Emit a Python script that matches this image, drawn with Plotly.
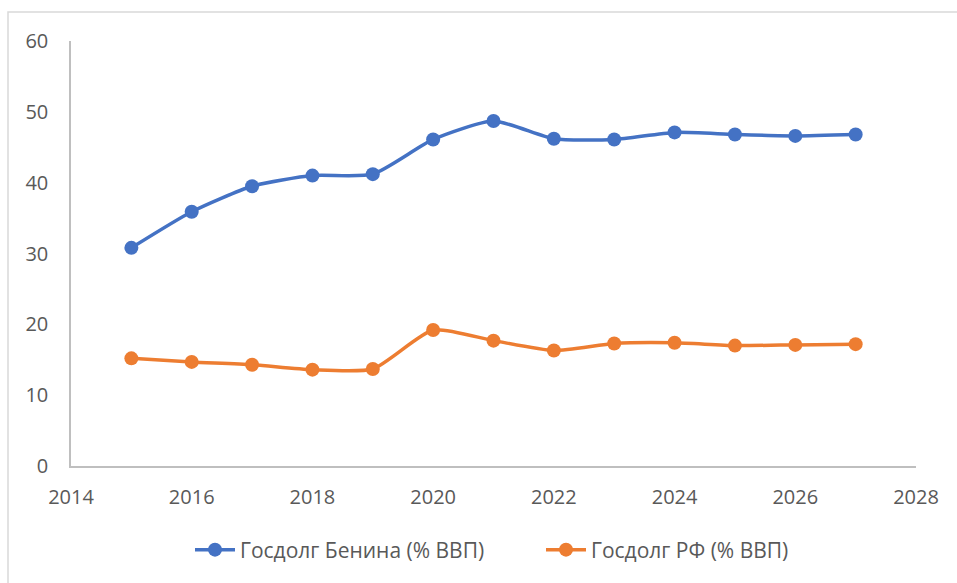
import plotly.graph_objects as go

years = [2015, 2016, 2017, 2018, 2019, 2020, 2021, 2022, 2023, 2024, 2025, 2026, 2027]
benin = [30.8, 35.9, 39.5, 41.0, 41.2, 46.1, 48.7, 46.2, 46.1, 47.1, 46.8, 46.6, 46.8]
russia = [15.2, 14.7, 14.3, 13.6, 13.7, 19.2, 17.7, 16.3, 17.3, 17.4, 17.0, 17.1, 17.2]
names = ["Госдолг Бенина (% ВВП)", "Госдолг РФ (% ВВП)"]
colors = ["#4472C4", "#ED7D31"]

W, H = 957, 583
L, R, T, B = 71, 41, 41, 117
pw, ph = W - L - R, H - T - B

fig = go.Figure()
for ys, nm, c in zip([benin, russia], names, colors):
    fig.add_trace(go.Scatter(
        x=years, y=ys, name=nm, mode="lines+markers",
        line=dict(color=c, width=3.5, shape="spline", smoothing=0.6),
        marker=dict(color=c, size=14),
    ))

def px_x(p):
    return (p - L) / pw

def px_y(p):
    return (H - B - p) / ph

fig.add_shape(type="rect", xref="paper", yref="paper",
              x0=px_x(8), x1=px_x(980), y0=px_y(600), y1=px_y(12),
              line=dict(color="#d9d9d9", width=1.5), fillcolor="rgba(0,0,0,0)", layer="below")

font = dict(family="Open Sans, Liberation Sans, sans-serif", size=20, color="#595959")
legfont = dict(family="Open Sans, Liberation Sans, sans-serif", size=21, color="#595959")
fig.update_layout(
    width=W, height=H,
    margin=dict(l=L, r=R, t=T, b=B, autoexpand=False),
    paper_bgcolor="white", plot_bgcolor="white",
    font=font,
    showlegend=True,
    legend=dict(orientation="h", x=px_x(190), xanchor="left", y=px_y(550), yanchor="middle",
                font=legfont, itemwidth=40, entrywidth=296, entrywidthmode="pixels",
                tracegroupgap=0),
    xaxis=dict(range=[2014, 2028], tickvals=list(range(2014, 2029, 2)),
               showgrid=False, zeroline=False, showline=True, linecolor="#bfbfbf", linewidth=1.5,
               ticks="", ticklabelstandoff=12, tickfont=font, fixedrange=True),
    yaxis=dict(range=[0, 60], tickvals=list(range(0, 61, 10)),
               showgrid=False, zeroline=False, showline=True, linecolor="#bfbfbf", linewidth=1.5,
               ticks="", ticklabelstandoff=17, tickfont=font, fixedrange=True),
)

fig.write_html("out.html", config={"displayModeBar": False},
               post_script="document.body.style.margin='0';")
